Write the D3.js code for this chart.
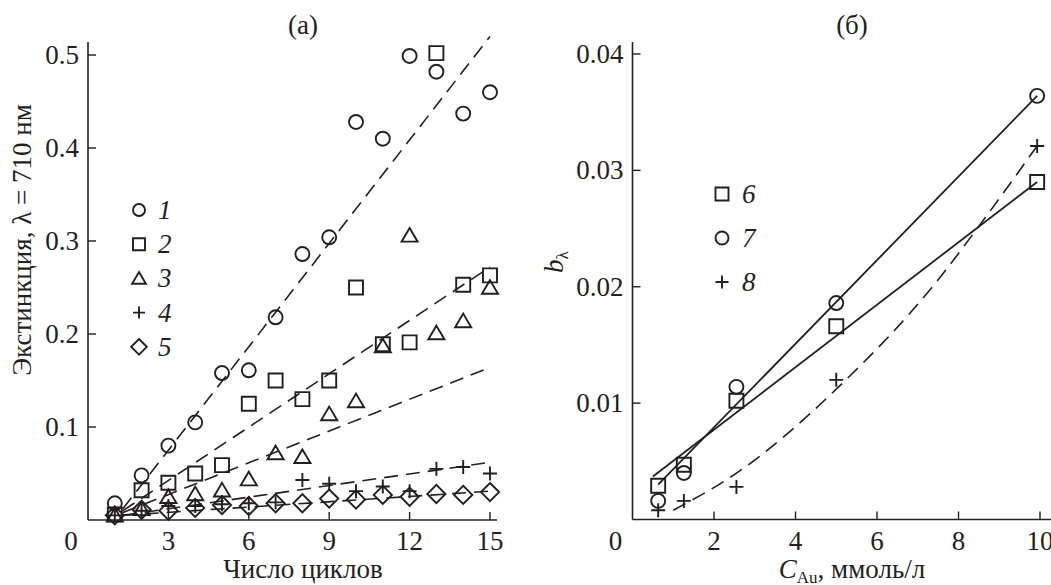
<!DOCTYPE html>
<meta charset="utf-8">
<style>
body { margin: 0; background: #fff; }
svg text { font-family: "Liberation Serif", "Times New Roman", serif; fill: #231f20; }
</style>
<body>
<script src="https://d3js.org/d3.v7.min.js"></script>
<script>

// ---- panel (a) data ----
let cycles = [1, 2, 3, 4, 5, 6, 7, 8, 9, 10, 11, 12, 13, 14, 15];
let s1 = [0.018, 0.048, 0.080, 0.105, 0.158, 0.161, 0.218, 0.286, 0.304, 0.428, 0.410, 0.499, 0.482, 0.437, 0.460];
let s2 = [0.006, 0.032, 0.040, 0.050, 0.059, 0.125, 0.150, 0.130, 0.150, 0.250, 0.189, 0.191, 0.502, 0.253, 0.263];
let s3 = [0.005, 0.012, 0.025, 0.028, 0.032, 0.044, 0.072, 0.068, 0.114, 0.128, 0.187, 0.306, 0.201, 0.214, 0.250];
let s4 = [0.005, 0.010, 0.015, 0.015, 0.017, 0.018, 0.019, 0.043, 0.039, 0.031, 0.036, 0.031, 0.055, 0.057, 0.050];
let s5 = [0.005, 0.011, 0.010, 0.013, 0.016, 0.015, 0.018, 0.018, 0.023, 0.022, 0.027, 0.025, 0.028, 0.027, 0.030];
// dashed fit lines, [x, y] end points
let fit1 = [[1.3, 0.012], [15, 0.520]];
let fit2 = [[1.3, 0.010], [15, 0.272]];
let fit3 = [[1.3, 0.008], [15, 0.164]];
let fit4 = [[1.3, 0.005], [15, 0.062]];
let fit5 = [[1.3, 0.005], [15, 0.031]];
let xTicksA = [3, 6, 9, 12, 15];
let yTicksA = [0.1, 0.2, 0.3, 0.4, 0.5];
let legendA = ["1", "2", "3", "4", "5"];

// ---- panel (б) data ----
let conc = [0.63, 1.26, 2.55, 5.0, 9.93];
let s6 = [0.0029, 0.0047, 0.0102, 0.0166, 0.0290];
let s7 = [0.0016, 0.0040, 0.0114, 0.0186, 0.0364];
let s8 = [0.0008, 0.0016, 0.0028, 0.0120, 0.0321];
let line6 = [[0.50, 0.0037], [9.93, 0.0290]];
let line7 = [[0.63, 0.0030], [9.93, 0.0364]];
let curve8 = [[1.0, 0.0008], [2.56, 0.0040], [5.0, 0.0112], [7.5, 0.0206], [8.5, 0.0252], [9.93, 0.0321]];
let xTicksB = [2, 4, 6, 8, 10];
let yTicksB = [0.01, 0.02, 0.03, 0.04];
let legendB = ["6", "7", "8"];

let width = 1051;
let height = 585;
let ink = "#231f20";
let fs = 27;

let svg = d3.select("body").append("svg")
    .attr("width", width)
    .attr("height", height);

let xA = d3.scaleLinear().domain([0, 15]).range([88, 490]);
let yA = d3.scaleLinear().domain([0, 0.5]).range([520, 55]);
let xB = d3.scaleLinear().domain([0, 10]).range([632.5, 1040]);
let yB = d3.scaleLinear().domain([0, 0.04]).range([519.5, 54]);

function symbolPath(kind, s) {
  // s = half size
  if (kind == "square") return `M${-s},${-s}H${s}V${s}H${-s}Z`;
  if (kind == "triangle") { let h = s * 1.05; return `M0,${-h}L${s * 1.15},${h * 0.85}L${-s * 1.15},${h * 0.85}Z`; }
  if (kind == "plus") return `M${-s},0H${s}M0,${-s}V${s}`;
  if (kind == "diamond") { let d = s * 1.3; return `M0,${-d}L${d},0L0,${d}L${-d},0Z`; }
}

function drawMarker(g, kind, cx, cy, s) {
  if (kind == "circle") {
    g.append("circle").attr("cx", cx).attr("cy", cy).attr("r", s)
      .attr("fill", "none").attr("stroke", ink).attr("stroke-width", 1.9);
  } else {
    g.append("path").attr("d", symbolPath(kind, s))
      .attr("transform", `translate(${cx},${cy})`)
      .attr("fill", "none").attr("stroke", ink).attr("stroke-width", 1.9);
  }
}

function drawAxes(x, y, xTicks, yTicks, xEnd, yTop, fmtY) {
  let g = svg.append("g");
  let x0 = x(0), y0 = y(0);
  g.append("line").attr("x1", x0).attr("x2", xEnd).attr("y1", y0).attr("y2", y0)
    .attr("stroke", ink).attr("stroke-width", 1.6);
  g.append("line").attr("x1", x0).attr("x2", x0).attr("y1", y0).attr("y2", yTop)
    .attr("stroke", ink).attr("stroke-width", 1.6);
  g.selectAll(".xt").data(xTicks).enter().append("line")
    .attr("x1", d => x(d)).attr("x2", d => x(d))
    .attr("y1", y0).attr("y2", y0 - 8)
    .attr("stroke", ink).attr("stroke-width", 1.4);
  g.selectAll(".xl").data([0].concat(xTicks)).enter().append("text")
    .attr("x", d => d == 0 ? x0 - 17 : x(d)).attr("y", y0 + 30)
    .attr("text-anchor", "middle").attr("font-size", fs)
    .text(d => d);
  g.selectAll(".yt").data(yTicks).enter().append("line")
    .attr("x1", x0).attr("x2", x0 + 8)
    .attr("y1", d => y(d)).attr("y2", d => y(d))
    .attr("stroke", ink).attr("stroke-width", 1.4);
  g.selectAll(".yl").data(yTicks).enter().append("text")
    .attr("x", x0 - 9).attr("y", d => y(d) + 9)
    .attr("text-anchor", "end").attr("font-size", fs)
    .text(fmtY);
}

let line = d3.line().x(d => d[0]).y(d => d[1]);

// ---------- panel (a) ----------
drawAxes(xA, yA, xTicksA, yTicksA, 497, 42, d3.format(".1f"));

let fitsA = [fit1, fit2, fit3, fit4, fit5];
svg.append("g").selectAll("path").data(fitsA).enter().append("path")
  .attr("d", d => line(d.map(p => [xA(p[0]), yA(p[1])])))
  .attr("fill", "none").attr("stroke", ink).attr("stroke-width", 1.6)
  .attr("stroke-dasharray", "14,8");

let seriesA = [[s1, "circle"], [s2, "square"], [s3, "triangle"], [s4, "plus"], [s5, "diamond"]];
let gA = svg.append("g");
seriesA.forEach(function(sr) {
  sr[0].forEach(function(v, i) {
    drawMarker(gA, sr[1], xA(cycles[i]), yA(v), 7);
  });
});

// legend (a)
let legA = svg.append("g");
legendA.forEach(function(lbl, i) {
  let cy = 210 + i * 34.2;
  drawMarker(legA, seriesA[i][1], 139, cy, 6);
  legA.append("text").attr("x", 158).attr("y", cy + 9)
    .attr("font-size", fs).attr("font-style", "italic").text(lbl);
});

svg.append("text").attr("x", 303).attr("y", 34)
  .attr("text-anchor", "middle").attr("font-size", fs).text("(a)");
svg.append("text").attr("x", 303).attr("y", 578)
  .attr("text-anchor", "middle").attr("font-size", fs).text("Число циклов");
svg.append("text")
  .attr("transform", "translate(31,240) rotate(-90)")
  .attr("text-anchor", "middle").attr("font-size", fs)
  .text("Экстинкция, λ = 710 нм");

// ---------- panel (б) ----------
drawAxes(xB, yB, xTicksB, yTicksB, 1051, 42, d3.format(".2f"));

let gB = svg.append("g");
[line6, line7].forEach(function(l) {
  gB.append("path")
    .attr("d", line(l.map(p => [xB(p[0]), yB(p[1])])))
    .attr("fill", "none").attr("stroke", ink).attr("stroke-width", 1.8);
});
gB.append("path")
  .attr("d", d3.line().x(p => xB(p[0])).y(p => yB(p[1])).curve(d3.curveMonotoneX)(curve8))
  .attr("fill", "none").attr("stroke", ink).attr("stroke-width", 1.6)
  .attr("stroke-dasharray", "14,8");

let seriesB = [[s6, "square"], [s7, "circle"], [s8, "plus"]];
seriesB.forEach(function(sr) {
  sr[0].forEach(function(v, i) {
    drawMarker(gB, sr[1], xB(conc[i]), yB(v), 7);
  });
});

let legB = svg.append("g");
legendB.forEach(function(lbl, i) {
  let cy = 194 + i * 44;
  drawMarker(legB, seriesB[i][1], 722, cy, 6.5);
  legB.append("text").attr("x", 742).attr("y", cy + 9)
    .attr("font-size", fs).attr("font-style", "italic").text(lbl);
});

svg.append("text").attr("x", 852).attr("y", 34)
  .attr("text-anchor", "middle").attr("font-size", fs).text("(б)");

let xl = svg.append("text").attr("x", 852).attr("y", 578)
  .attr("text-anchor", "middle").attr("font-size", fs);
xl.append("tspan").attr("font-style", "italic").text("C");
xl.append("tspan").attr("font-size", 17).attr("dy", 5).text("Au");
xl.append("tspan").attr("dy", -5).text(", ммоль/л");

let yl = svg.append("text")
  .attr("transform", "translate(563,262) rotate(-90)")
  .attr("text-anchor", "middle").attr("font-size", fs);
yl.append("tspan").attr("font-style", "italic").text("b");
yl.append("tspan").attr("font-size", 17).attr("dy", 5).text("λ");

</script>
